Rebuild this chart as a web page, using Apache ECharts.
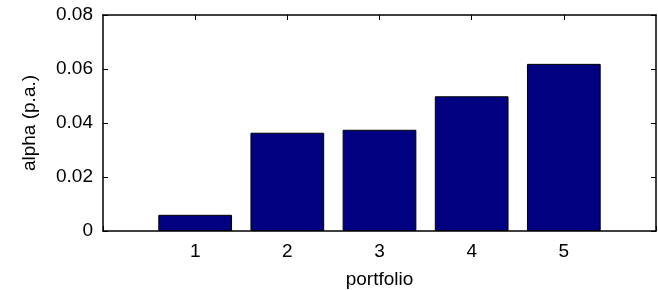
<!DOCTYPE html>
<html><head><meta charset="utf-8">
<script src="https://cdn.jsdelivr.net/npm/echarts@6/dist/echarts.min.js"></script>
<style>html,body{margin:0;padding:0;background:#fff}#c{width:658px;height:290px}</style>
</head><body><div id="c"></div>
<script>
var categories = [1, 2, 3, 4, 5];
var alphaValues = [0.0060, 0.0364, 0.0375, 0.0499, 0.0619];
var yTicks = [0, 0.02, 0.04, 0.06, 0.08];

var FONT = 'Liberation Sans, Arial, sans-serif';
var FS = 19;
var chart = echarts.init(document.getElementById('c'), null, {renderer: 'canvas'});
var lineStyle = {color: '#000', width: 1.5};
chart.setOption({
  animation: false,
  grid: {left: 103, right: 2, top: 15, bottom: 59, containLabel: false, outerBoundsMode: 'none'},
  xAxis: [{
    type: 'value', min: 0, max: 6, interval: 1, position: 'bottom',
    name: 'portfolio', nameLocation: 'middle', nameGap: 39,
    nameTextStyle: {fontFamily: FONT, fontSize: FS, color: '#000'},
    axisLine: {show: true, onZero: false, lineStyle: lineStyle},
    axisTick: {show: true, inside: true, length: 5, lineStyle: {color: '#000', width: 1}},
    axisLabel: {fontFamily: FONT, fontSize: FS, color: '#000', margin: 11,
      formatter: function (v) { return categories.indexOf(v) >= 0 ? String(v) : ''; }},
    splitLine: {show: false}
  }, {
    type: 'value', min: 0, max: 6, interval: 1, position: 'top',
    axisLine: {show: true, onZero: false, lineStyle: lineStyle},
    axisTick: {show: true, inside: true, length: 5, lineStyle: {color: '#000', width: 1},
      customValues: categories},
    axisLabel: {show: false}, splitLine: {show: false}
  }],
  yAxis: [{
    type: 'value', min: 0, max: 0.08, interval: 0.02, position: 'left',
    name: 'alpha (p.a.)', nameLocation: 'middle', nameGap: 64, nameRotate: 90,
    nameTextStyle: {fontFamily: FONT, fontSize: FS, color: '#000'},
    axisLine: {show: true, onZero: false, lineStyle: lineStyle},
    axisTick: {show: true, inside: true, length: 5, lineStyle: {color: '#000', width: 1}},
    axisLabel: {fontFamily: FONT, fontSize: FS, color: '#000', margin: 10,
      formatter: function (v) { return v === 0 ? '0' : v.toFixed(2); }},
    splitLine: {show: false}
  }, {
    type: 'value', min: 0, max: 0.08, interval: 0.02, position: 'right',
    axisLine: {show: true, onZero: false, lineStyle: lineStyle},
    axisTick: {show: true, inside: true, length: 5, lineStyle: {color: '#000', width: 1}},
    axisLabel: {show: false}, splitLine: {show: false}
  }],
  series: [{
    type: 'bar', xAxisIndex: 0, yAxisIndex: 0,
    barWidth: '80%',
    data: categories.map(function (c, i) { return [c, alphaValues[i]]; }),
    itemStyle: {color: '#000080', borderColor: '#000', borderWidth: 1}
  }]
});
</script></body></html>
